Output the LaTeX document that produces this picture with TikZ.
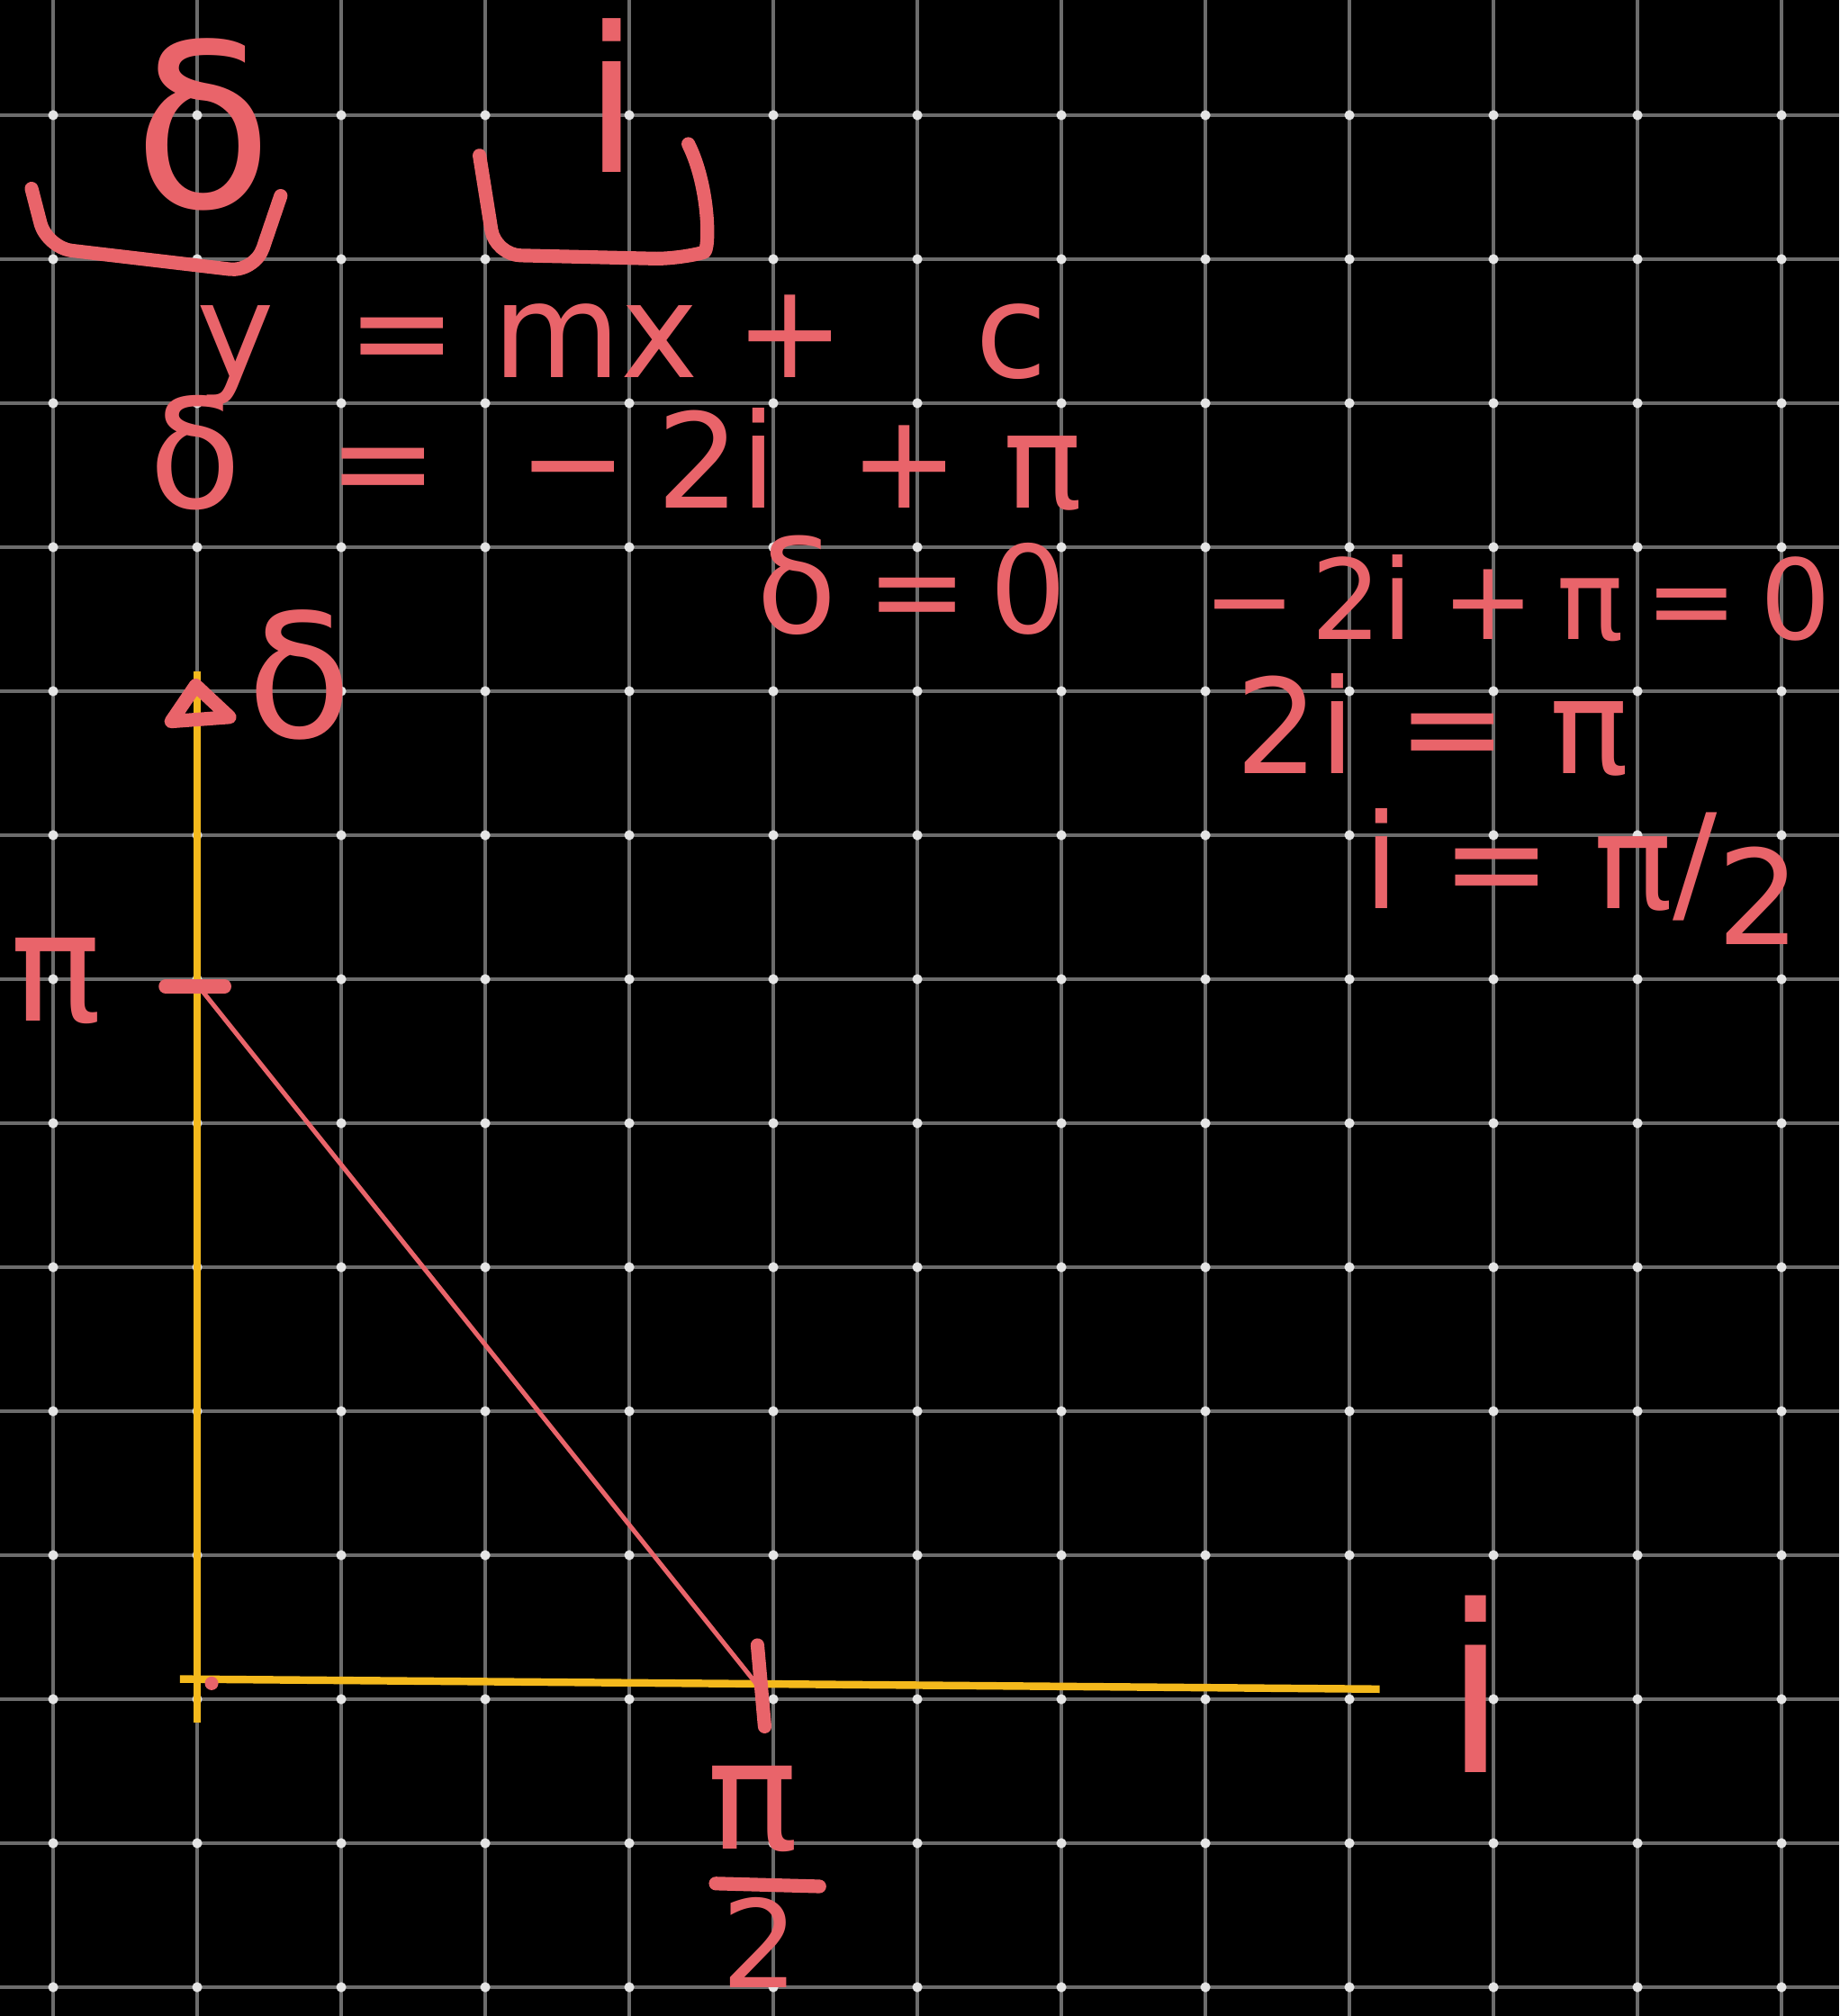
\documentclass[tikz,border=0pt]{standalone}
\usepackage{fontspec}
\setmainfont{DejaVu Sans}
\usepackage{tikz}

\definecolor{gridgray}{HTML}{6C6C6C}
\definecolor{dotwhite}{HTML}{E4E4E4}
\definecolor{penred}{HTML}{E9646A}
\definecolor{penyellow}{HTML}{F4B91C}
\newcommand{\fsz}[1]{\fontsize{#1}{#1}\selectfont}

\begin{document}
\begin{tikzpicture}[
  pen/.style={penred, line width=2.7pt, line cap=round, line join=round},
  axisline/.style={penyellow, line width=1.5pt},
  ink/.style={text=penred, inner sep=0pt}]

\useasboundingbox (-0.369,-0.2) rectangle (12.4,13.8);
\fill[black] (-0.369,-0.2) rectangle (12.4,13.8);

% board grid
\foreach \x in {0,...,12}
  \draw[gridgray, line width=0.6pt] (\x,-0.2) -- (\x,13.8);
\foreach \y in {0,...,13}
  \draw[gridgray, line width=0.6pt] (-0.369,\y) -- (12.4,\y);
\foreach \x in {0,...,12}
  \foreach \y in {0,...,13}
    \fill[dotwhite] (\x,\y) circle (0.035);

% heading: delta and i
\node[ink, anchor=base, font=\fsz{45}] (dhead) at (1.04,12.36) {δ};
\draw[pen, rounded corners=5pt] (-0.15,12.49) -- (-0.044,12.08) -- (1.4,11.91) -- (1.58,12.44);
\node[ink, anchor=base, font=\fsz{40}] (ihead) at (3.88,12.6) {i};
\draw[pen, rounded corners=5pt] (2.96,12.72) -- (3.07,12.03) -- (4.35,12.0)
  .. controls (4.56,12.06) and (4.56,12.5) .. (4.41,12.8);

% working
\node[ink, anchor=base west, font=\fsz{26}] (line) at (0.99,11.175)
  {y\hspace{0.5cm}=\hspace{0.25cm}mx\hspace{0.25cm}+\hspace{0.9cm}c};
\node[ink, anchor=base west, font=\fsz{26}] (sub) at (0.66,10.27)
  {{\fsz{30}δ}\hspace{0.6cm}=\hspace{0.55cm}−\hspace{0.2cm}2i\hspace{0.5cm}+\hspace{0.3cm}π};
\node[ink, anchor=base west, font=\fsz{24}] (dzero) at (4.88,9.4)
  {{\fsz{26}δ}\hspace{0.2cm}=\hspace{0.15cm}0};
\node[ink, anchor=base west, font=\fsz{22}] (eqa) at (7.98,9.36)
  {−\hspace{0.1cm}2i\hspace{0.2cm}+\hspace{0.15cm}π\hspace{0.15cm}=\hspace{0.15cm}0};
\node[ink, anchor=base west, font=\fsz{26}] (eqb) at (8.2,8.425) {2i = π};
\node[ink, anchor=base west, font=\fsz{26}] (eqc) at (9.09,7.49) {i = π/\raisebox{-0.5ex}{2}};

% axes
\coordinate (dtop) at (1,9.14);
\coordinate (dbot) at (1,1.84);
\coordinate (istart) at (0.88,2.14);
\coordinate (iend) at (9.21,2.07);
\draw[axisline] (dbot) -- (dtop);
\draw[axisline] (istart) -- (iend);
\draw[pen] (0.99,9.04) -- (0.82,8.79) -- (1.225,8.82) -- cycle;% arrow tip
\fill[penred] (1.1,2.11) circle (0.047);

\node[ink, anchor=base, font=\fsz{34}] (dlab) at (1.71,8.675) {δ};
\node[ink, anchor=base, font=\fsz{46}] (ilab) at (9.88,1.49) {i};

% intercepts
\coordinate (P) at (1.03,6.925);
\coordinate (Q) at (4.88,2.11);
\draw[penred, line width=0.9pt] (P) -- (Q);
\draw[pen] (0.78,6.95) -- (1.19,6.95);
\draw[pen] (4.89,2.375) -- (4.94,1.81);
\node[ink, anchor=base, font=\fsz{30}] (pilab) at (0.02,6.71) {π};
\node[ink, anchor=base, font=\fsz{30}] (pinum) at (4.86,0.96) {π};
\node[ink, anchor=base, font=\fsz{24}] (piden) at (4.91,0.0) {2};
\draw[pen] (4.6,0.72) -- (5.32,0.7);

\end{tikzpicture}
\end{document}
